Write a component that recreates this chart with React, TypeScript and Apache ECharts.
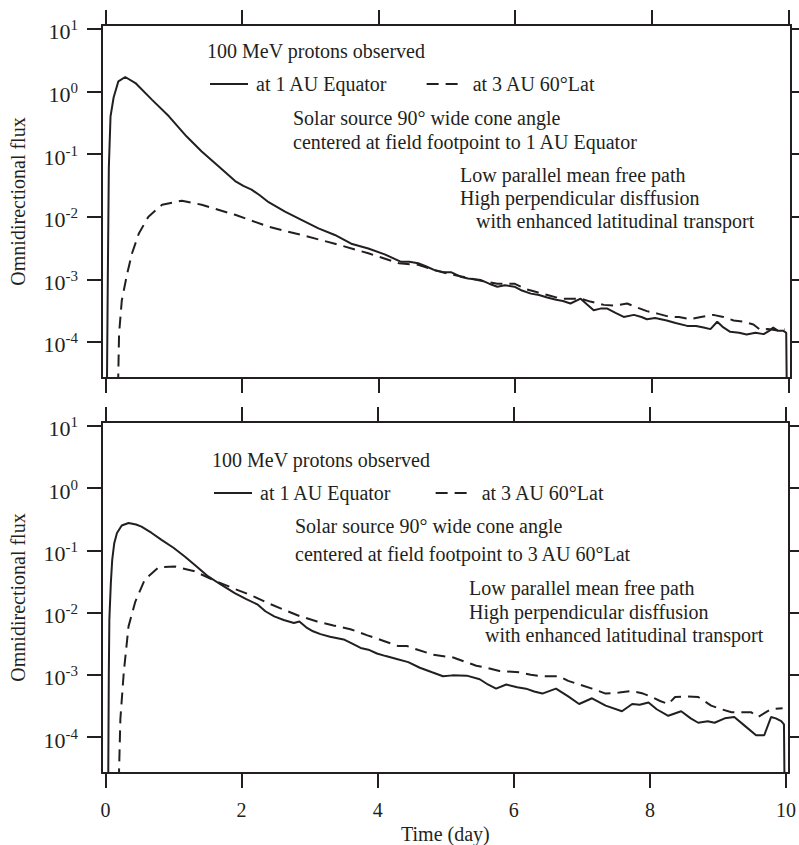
import { useEffect, useRef } from "react";
import * as echarts from "echarts";

const ink = "#231f20";
const serif = "'Liberation Serif', 'Times New Roman', serif";

const timeTicks = [0, 2, 4, 6, 8, 10];
const fluxTicks = [1e-4, 1e-3, 1e-2, 1e-1, 1, 10];
const seriesNames = ["at 1 AU Equator", "at 3 AU 60°Lat"];

// [time (day), omnidirectional flux]
// upper panel: source centred at footpoint to 1 AU equator
const upperEquator: [number, number][] = [
  [0.02, 1e-5], [0.035, 1e-3], [0.05, 0.06], [0.075, 0.4], [0.12, 0.8], [0.19, 1.45], [0.29, 1.7],
  [0.44, 1.36], [0.68, 0.74], [0.93, 0.4], [1.19, 0.19], [1.41, 0.11], [1.66, 0.063], [1.9, 0.037],
  [2.02, 0.031], [2.14, 0.027], [2.26, 0.022], [2.39, 0.017], [2.63, 0.012], [2.87, 0.0089],
  [3.12, 0.0065], [3.36, 0.0051], [3.6, 0.0037], [3.85, 0.0031], [4.09, 0.0025], [4.33, 0.0019],
  [4.45, 0.0019], [4.58, 0.0018], [4.7, 0.0016], [4.82, 0.0014], [4.95, 0.0013], [5.06, 0.0013],
  [5.2, 0.0011], [5.31, 0.00103], [5.4, 0.001], [5.5, 0.00097], [5.62, 0.00085], [5.74, 0.00076],
  [5.85, 0.0008], [5.99, 0.00076], [6.1, 0.00066], [6.23, 0.00059], [6.35, 0.00056], [6.47, 0.00051],
  [6.6, 0.00047], [6.7, 0.00045], [6.81, 0.00041], [6.96, 0.00049], [7.05, 0.0004], [7.15, 0.00032],
  [7.25, 0.00034], [7.35, 0.00034], [7.47, 0.00029], [7.59, 0.00025], [7.74, 0.00027], [7.85, 0.00025],
  [7.93, 0.00023], [8.05, 0.00024], [8.22, 0.00022], [8.35, 0.0002], [8.52, 0.00018], [8.65, 0.00018],
  [8.76, 0.00017], [8.86, 0.00016], [8.96, 0.00021], [9.05, 0.00017], [9.15, 0.000145], [9.28, 0.00014],
  [9.39, 0.000131], [9.52, 0.00014], [9.64, 0.000133], [9.72, 0.00015], [9.78, 0.00017], [9.85, 0.00015],
  [9.93, 0.00015], [9.97, 0.00014], [9.98, 1e-5],
];

const upperHighLat: [number, number][] = [
  [0.18, 1e-5], [0.2, 1.35e-4], [0.24, 4.6e-4], [0.32, 1.25e-3], [0.39, 2.6e-3], [0.49, 5.4e-3],
  [0.63, 0.01], [0.83, 0.0155], [1.12, 0.018], [1.41, 0.0155], [1.9, 0.0107], [2.39, 0.0069],
  [2.87, 0.0051], [3.36, 0.0037], [3.85, 0.0026], [4.3, 0.0018], [4.58, 0.0017], [4.82, 0.0014],
  [5.06, 0.0012], [5.31, 0.00105], [5.5, 0.00095], [5.74, 0.00085], [5.99, 0.00085], [6.15, 0.0007],
  [6.3, 0.00063], [6.5, 0.00055], [6.67, 0.00049], [6.96, 0.00049], [7.1, 0.00044], [7.3, 0.00039],
  [7.45, 0.00038], [7.64, 0.00041], [7.8, 0.00035], [7.93, 0.00031], [8.1, 0.00028], [8.27, 0.00025],
  [8.4, 0.00025], [8.56, 0.00023], [8.72, 0.00025], [8.9, 0.00027], [9.05, 0.00025], [9.2, 0.00022],
  [9.35, 0.00021], [9.49, 0.00019], [9.59, 0.000155], [9.7, 0.00016], [9.88, 0.00015], [9.95, 0.00016],
];

// lower panel: source centred at footpoint to 3 AU 60° latitude
const lowerEquator: [number, number][] = [
  [0.04, 1e-5], [0.05, 0.001], [0.058, 0.0077], [0.08, 0.03], [0.1, 0.07], [0.13, 0.13], [0.17, 0.19],
  [0.24, 0.25], [0.34, 0.275], [0.45, 0.26], [0.53, 0.24], [0.68, 0.19], [0.83, 0.146], [1.0, 0.11],
  [1.17, 0.079], [1.34, 0.055], [1.51, 0.038], [1.7, 0.028], [1.9, 0.0205], [2.07, 0.0165],
  [2.24, 0.0134], [2.35, 0.0105], [2.48, 0.0087], [2.62, 0.0076], [2.77, 0.0068], [2.85, 0.0072],
  [2.95, 0.0058], [3.05, 0.005], [3.16, 0.0045], [3.3, 0.0041], [3.5, 0.0037], [3.62, 0.0032],
  [3.75, 0.0027], [3.88, 0.0025], [3.99, 0.0022], [4.12, 0.002], [4.28, 0.0018], [4.45, 0.0016],
  [4.62, 0.0013], [4.8, 0.0011], [4.96, 0.00095], [5.1, 0.00098], [5.31, 0.00097], [5.5, 0.00085],
  [5.62, 0.0007], [5.74, 0.0006], [5.89, 0.0007], [6.05, 0.00063], [6.18, 0.0006], [6.3, 0.00054],
  [6.42, 0.0005], [6.62, 0.0006], [6.8, 0.00045], [6.96, 0.00034], [7.15, 0.00042], [7.35, 0.00032],
  [7.59, 0.00026], [7.74, 0.00034], [7.85, 0.00033], [7.98, 0.00036], [8.1, 0.00028], [8.27, 0.00022],
  [8.46, 0.00026], [8.6, 0.0002], [8.71, 0.00017], [8.85, 0.00018], [8.95, 0.00017], [9.1, 0.0002],
  [9.24, 0.00021], [9.4, 0.00015], [9.56, 0.000107], [9.68, 0.000107], [9.78, 0.00021], [9.85, 0.0002],
  [9.93, 0.00018], [9.97, 0.00016], [9.98, 1e-5],
];

const lowerHighLat: [number, number][] = [
  [0.19, 1e-5], [0.22, 0.000195], [0.27, 0.0011], [0.34, 0.006], [0.44, 0.015], [0.58, 0.034],
  [0.78, 0.053], [1.02, 0.055], [1.31, 0.046], [1.65, 0.031], [1.9, 0.024], [2.14, 0.019], [2.4, 0.014],
  [2.63, 0.011], [2.85, 0.0088], [3.11, 0.0072], [3.35, 0.0062], [3.6, 0.0054], [3.85, 0.0043],
  [4.09, 0.0035], [4.3, 0.0029], [4.43, 0.0029], [4.6, 0.0025], [4.82, 0.0021], [5.11, 0.0019],
  [5.3, 0.0016], [5.45, 0.0014], [5.6, 0.0013], [5.79, 0.00115], [6.08, 0.0011], [6.25, 0.001],
  [6.42, 0.00095], [6.67, 0.00095], [6.8, 0.0008], [6.96, 0.0007], [7.15, 0.0006], [7.35, 0.0005],
  [7.55, 0.00052], [7.74, 0.00055], [7.9, 0.0005], [8.03, 0.00044], [8.15, 0.00038], [8.27, 0.00034],
  [8.37, 0.00044], [8.55, 0.00045], [8.71, 0.00044], [8.9, 0.00032], [9.05, 0.00028], [9.2, 0.00025],
  [9.49, 0.00025], [9.59, 0.00021], [9.7, 0.00025], [9.78, 0.00028], [9.95, 0.00029],
];

const upperNotes = [
  "100 MeV protons observed",
  "Solar source 90° wide cone angle",
  "centered at field footpoint to 1 AU Equator",
  "Low parallel mean free path",
  "High perpendicular disffusion",
  "with enhanced latitudinal transport",
];
const lowerNotes = [
  "100 MeV protons observed",
  "Solar source 90° wide cone angle",
  "centered at field footpoint to 3 AU 60°Lat",
  "Low parallel mean free path",
  "High perpendicular disffusion",
  "with enhanced latitudinal transport",
];

// where each note sits (left x, middle y)
const upperNotePos = [[207, 51], [293, 118], [293, 142], [460, 175], [460, 198], [476, 221]];
const lowerNotePos = [[212, 460], [295, 526], [295, 554], [469, 588], [469, 612], [485, 635]];

const axisLine = { show: true, onZero: false, lineStyle: { color: ink, width: 2 } };
const tickStyle = { color: ink, width: 2 };

function timeAxis(gridIndex: number, position: string, labelled: boolean) {
  return {
    type: "value",
    gridIndex,
    position,
    min: -0.05,
    max: 10.04,
    axisLine,
    axisTick: { show: true, inside: false, length: 15, customValues: timeTicks, lineStyle: tickStyle },
    axisLabel: {
      show: labelled,
      customValues: timeTicks,
      margin: 27,
      color: ink,
      fontSize: 20,
      fontFamily: serif,
    },
    splitLine: { show: false },
    name: labelled ? "Time (day)" : "",
    nameLocation: "middle",
    nameGap: 51,
    nameTextStyle: { color: ink, fontSize: 20, fontFamily: serif },
  };
}

function fluxAxis(gridIndex: number, position: string, labelled: boolean) {
  return {
    type: "log",
    gridIndex,
    position,
    min: 2.65e-5,
    max: 11.5,
    axisLine,
    axisTick: { show: true, inside: false, length: 15, customValues: fluxTicks, lineStyle: tickStyle },
    axisLabel: {
      show: labelled,
      customValues: fluxTicks,
      margin: 24,
      color: ink,
      fontSize: 22,
      fontFamily: serif,
      formatter: (v: number) => `{b|10}{s|${Math.round(Math.log10(v))}}`,
      rich: {
        b: { fontSize: 22, lineHeight: 22, padding: [6, 0, 0, 0], fontFamily: serif, color: ink },
        s: { fontSize: 15, lineHeight: 15, fontFamily: serif, color: ink, verticalAlign: "top" },
      },
    },
    splitLine: { show: false },
    name: labelled ? "Omnidirectional flux" : "",
    nameLocation: "middle",
    nameGap: 74,
    nameRotate: 90,
    nameTextStyle: { color: ink, fontSize: 20, fontFamily: serif },
  };
}

function curve(name: string, data: [number, number][], axis: number, dashed: boolean) {
  return {
    type: "line",
    name,
    data,
    xAxisIndex: axis,
    yAxisIndex: axis,
    symbol: "none",
    showSymbol: false,
    clip: true,
    lineStyle: { color: ink, width: 2, type: dashed ? [12, 7] : "solid" },
    itemStyle: { color: ink },
  };
}

function legendAt(left: number, top: number, itemGap: number) {
  return {
    data: seriesNames,
    left,
    top,
    padding: 0,
    itemGap,
    itemWidth: 38,
    itemHeight: 14,
    selectedMode: false,
    itemStyle: { opacity: 0 },
    textStyle: { color: ink, fontSize: 20, fontFamily: serif, padding: [0, 0, 0, 3] },
  };
}

function notes(texts: string[], pos: number[][]) {
  return texts.map((text, i) => ({
    type: "text",
    x: pos[i][0],
    y: pos[i][1],
    silent: true,
    style: { text, fill: ink, fontSize: 20, fontFamily: serif, verticalAlign: "middle" },
  }));
}

export default function App() {
  const chartRef = useRef<HTMLDivElement>(null);

  useEffect(() => {
    if (!chartRef.current) return;
    const chart = echarts.init(chartRef.current, null, { renderer: "svg" });

    chart.setOption({
      animation: false,
      backgroundColor: "#ffffff",
      grid: [
        { left: 100, top: 25, width: 691, height: 353 },
        { left: 100, top: 422, width: 691, height: 352 },
      ],
      xAxis: [
        timeAxis(0, "bottom", false),
        timeAxis(0, "top", false),
        timeAxis(1, "bottom", true),
        timeAxis(1, "top", false),
      ],
      yAxis: [
        fluxAxis(0, "left", true),
        fluxAxis(0, "right", false),
        fluxAxis(1, "left", true),
        fluxAxis(1, "right", false),
      ],
      legend: [legendAt(209, 74, 38), legendAt(213, 483, 43)],
      series: [
        curve(seriesNames[0], upperEquator, 0, false),
        curve(seriesNames[1], upperHighLat, 0, true),
        curve(seriesNames[0], lowerEquator, 2, false),
        curve(seriesNames[1], lowerHighLat, 2, true),
      ],
      graphic: [...notes(upperNotes, upperNotePos), ...notes(lowerNotes, lowerNotePos)],
    });

    return () => {
      chart.dispose();
    };
  }, []);

  return (
    <div
      ref={chartRef}
      style={{ position: "absolute", left: 0, top: 0, width: "799px", height: "845px" }}
    />
  );
}
